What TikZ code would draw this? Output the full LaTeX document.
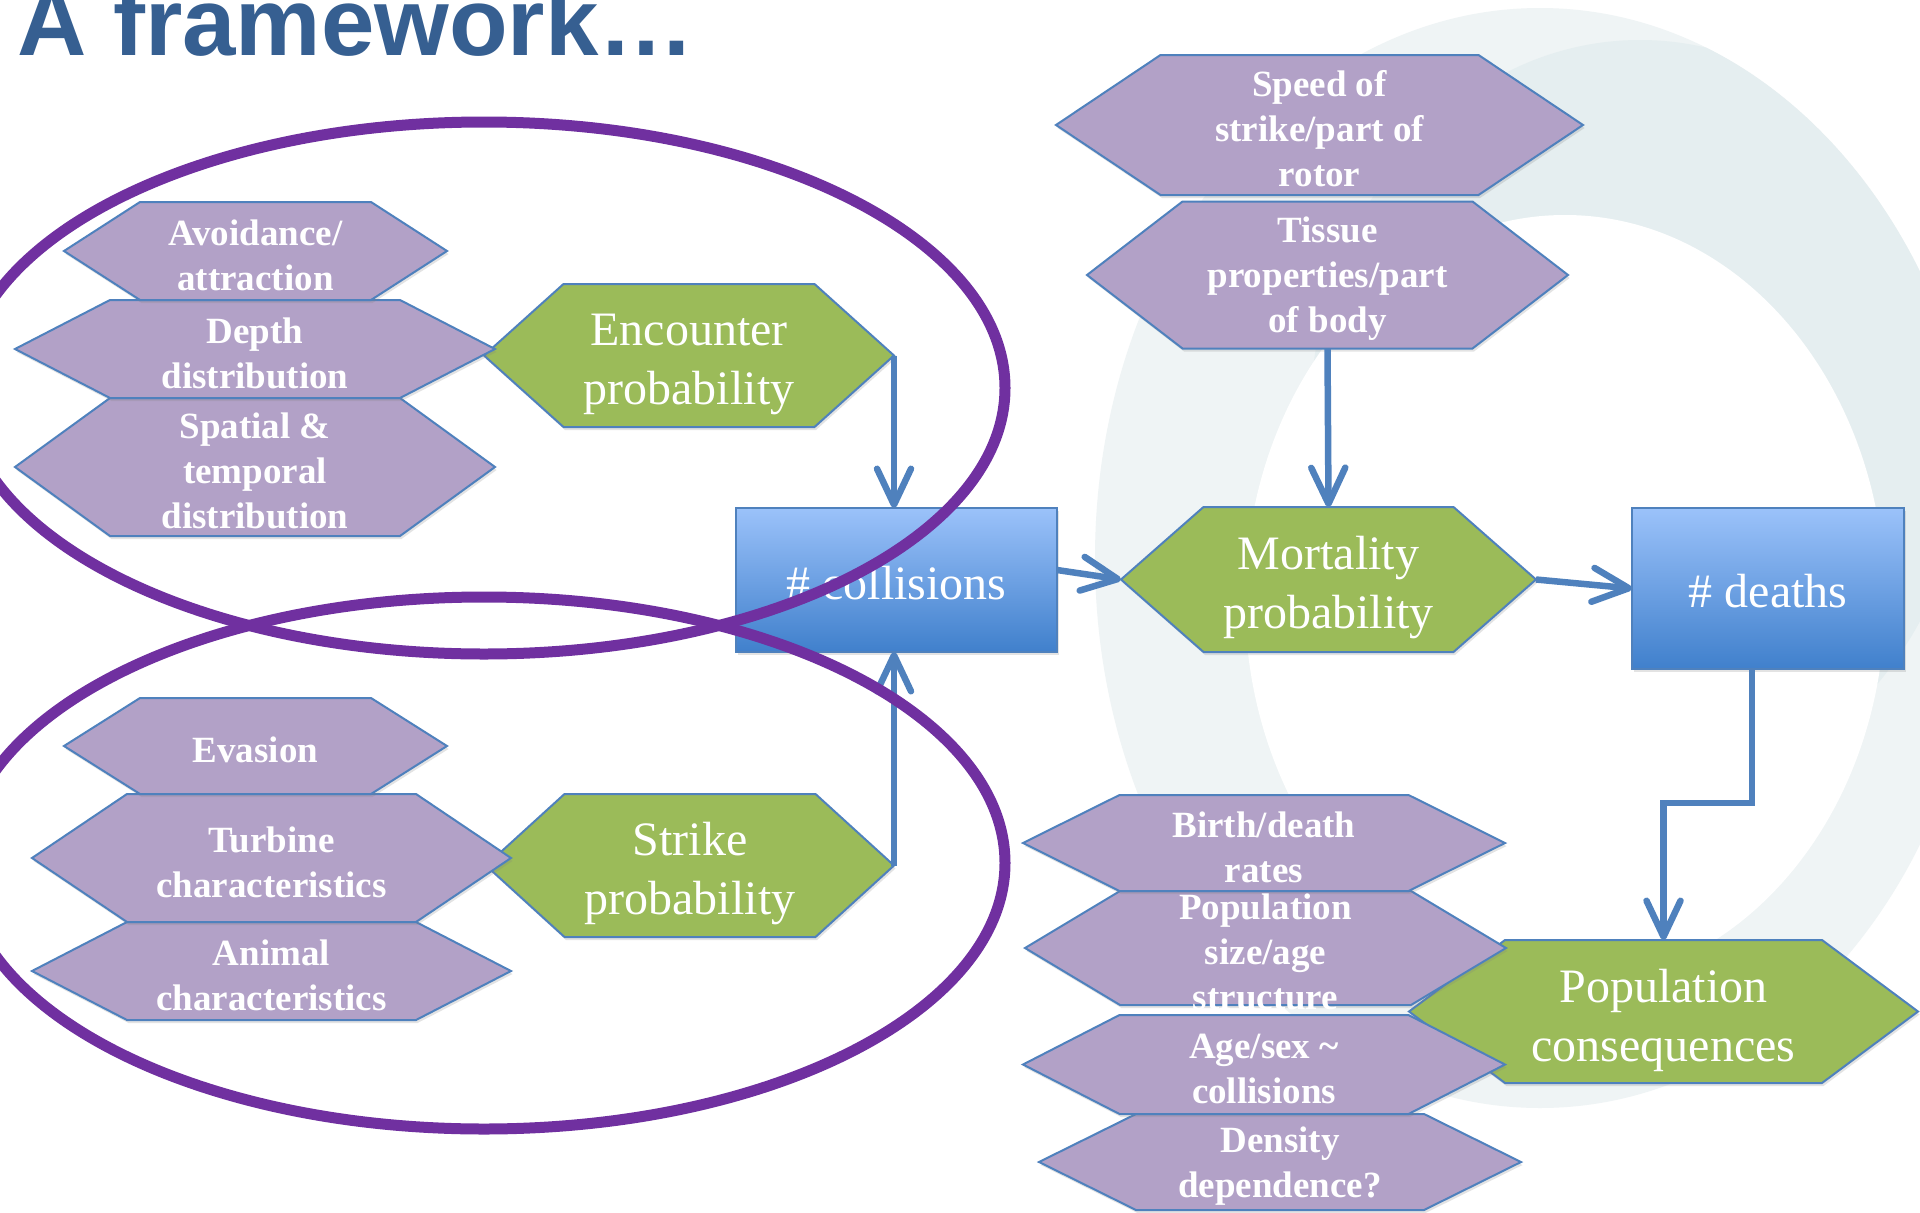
\documentclass[tikz,border=0pt]{standalone}
\usepackage{fontspec}
\setmainfont{Liberation Serif}
\newfontfamily\headfont{Liberation Sans}
\usetikzlibrary{arrows.meta,shadows}
\pgfdeclarelayer{background}
\pgfsetlayers{background,main}

\definecolor{titleblue}{RGB}{54,95,145}
\definecolor{hexpurple}{RGB}{178,161,199}
\definecolor{hexgreen}{RGB}{155,187,89}
\definecolor{edgeblue}{RGB}{79,129,189}
\definecolor{boxtop}{RGB}{155,194,250}
\definecolor{boxbot}{RGB}{64,128,204}
\definecolor{ringpurple}{RGB}{112,48,160}
\definecolor{wmlight}{RGB}{239,244,245}
\definecolor{wmdark}{RGB}{229,238,240}

\tikzset{
  softshadow/.style={drop shadow={opacity=0.22, shadow xshift=1.5pt, shadow yshift=-3pt}},
  hexedge/.style={draw=edgeblue, line width=2pt, line join=miter},
  purplehex/.style={hexedge, fill=hexpurple, softshadow},
  greenhex/.style={hexedge, fill=hexgreen, softshadow},
  hexframe/.style={shape=rectangle, inner sep=0pt, outer sep=0pt},
  hexlabel/.style={shape=rectangle, inner sep=0pt, outer sep=0pt, align=center, text=white},
  purplelabel/.style={hexlabel, yshift=-4pt, font=\fontsize{37}{45}\selectfont\bfseries},
  greenlabel/.style={hexlabel, yshift=-8.5pt, font=\fontsize{48}{59}\selectfont},
  countbox/.style={draw=edgeblue, line width=2pt, top color=boxtop, bottom color=boxbot,
    inner sep=0pt, outer sep=0pt, softshadow},
  countlabel/.style={hexlabel, yshift=-3pt, font=\fontsize{48}{59}\selectfont},
  conn/.style={draw=edgeblue, line width=6.5pt,
    -{Straight Barb[length=36pt, width=34pt, round]}},
  ring/.style={draw=ringpurple, line width=11pt}
}

% \hexnode{name}{cx}{cy}{half width to side points}{half width of flat edge}{half height}{kind}{text}
\newcommand\hexnode[8]{%
  \begin{pgfonlayer}{background}
    \path[#7hex] ({#2-#4},#3) -- ({#2-#5},{#3-#6}) -- ({#2+#5},{#3-#6})
      -- ({#2+#4},#3) -- ({#2+#5},{#3+#6}) -- ({#2-#5},{#3+#6}) -- cycle;
  \end{pgfonlayer}
  \node[hexframe, minimum width={2*(#4)}, minimum height={2*(#6)}] (#1) at (#2,#3) {};
  \node[#7label] (#1-text) at (#2,#3) {#8};
}

\begin{document}
\begin{tikzpicture}[x=1pt, y=-1pt]
  \useasboundingbox (0,0) rectangle (1920,1213);

  % page and faint logo in the background
  \begin{pgfonlayer}{background}
    \fill[white] (0,0) rectangle (1920,1213);
    \fill[wmlight] (1540,558) ellipse [x radius=445, y radius=550];
    \begin{scope}
      \clip (1540,558) ellipse [x radius=445, y radius=550];
      \fill[wmdark] (1640,420) ellipse [x radius=330, y radius=380];
    \end{scope}
    \fill[white] (1565,600) ellipse [x radius=320, y radius=385];
  \end{pgfonlayer}

  \node[anchor=base west, inner sep=0pt, text=titleblue,
        font=\headfont\bfseries\fontsize{96}{100}\selectfont] (title) at (17,55) {A framework…};

  % probability hexagons
  \hexnode{enc}{689}{355.5}{205}{125.5}{71.5}{green}{Encounter\\probability}
  \hexnode{strike}{690}{865.5}{204}{125.5}{71.5}{green}{Strike\\probability}
  \hexnode{mort}{1328.5}{579.5}{207.5}{125}{72.5}{green}{Mortality\\probability}
  \hexnode{popc}{1663.5}{1011.5}{254.5}{158.5}{71.5}{green}{Population\\consequences}

  % factors feeding encounter probability
  \hexnode{spatial}{255}{467}{240}{145}{69}{purple}{Spatial \&\\temporal\\distribution}
  \hexnode{depth}{255}{349}{240}{145}{49}{purple}{Depth\\distribution}
  \hexnode{avoid}{255.5}{251}{191.5}{115.5}{49}{purple}{Avoidance/\\attraction}

  % factors feeding strike probability
  \hexnode{animal}{271.5}{971}{239.5}{144.5}{49}{purple}{Animal\\characteristics}
  \hexnode{turbine}{271.5}{858}{239.5}{144.5}{64}{purple}{Turbine\\characteristics}
  \hexnode{evasion}{255.5}{746}{191.5}{115.5}{48}{purple}{Evasion}

  % factors feeding mortality probability
  \hexnode{tissue}{1327.5}{275}{240.5}{145}{73.5}{purple}{Tissue\\properties/part\\of body}
  \hexnode{speed}{1319.5}{125}{263.5}{159}{70}{purple}{Speed of\\strike/part of\\rotor}

  % factors feeding population consequences
  \hexnode{density}{1280}{1162}{241}{144}{48}{purple}{Density\\dependence?}
  \hexnode{agesex}{1264}{1064.5}{241}{144.5}{49.5}{purple}{Age/sex \textasciitilde\\collisions}
  \hexnode{popsize}{1265.5}{948}{240.5}{145.5}{57}{purple}{Population\\size/age\\structure}
  \hexnode{birth}{1264}{843}{241}{144.5}{48}{purple}{Birth/death\\rates}

  % counts
  \node[countbox, minimum width=321pt, minimum height=144pt] (coll) at (896.5,580) {};
  \node[countlabel] (coll-text) at (coll) {\# collisions};
  \node[countbox, minimum width=272pt, minimum height=161pt] (deaths) at (1768,588.5) {};
  \node[countlabel] (deaths-text) at (deaths) {\# deaths};

  % connectors
  \draw[conn] (enc.east) -- (enc.east |- coll.north);
  \draw[conn] (strike.east) -- (strike.east |- coll.south);
  \draw[conn] ([yshift=10pt]coll.east) -- (mort.west);
  \draw[conn] (tissue.south) -- (mort.north);
  \draw[conn] (mort.east) -- (deaths.west);
  \draw[conn] ([xshift=-16pt]deaths.south) -- ++(0,134) -| (popc.north);

  % groupings
  \draw[ring] (484,388) ellipse [x radius=521, y radius=266];
  \draw[ring] (484,863) ellipse [x radius=521, y radius=266];
\end{tikzpicture}
\end{document}
